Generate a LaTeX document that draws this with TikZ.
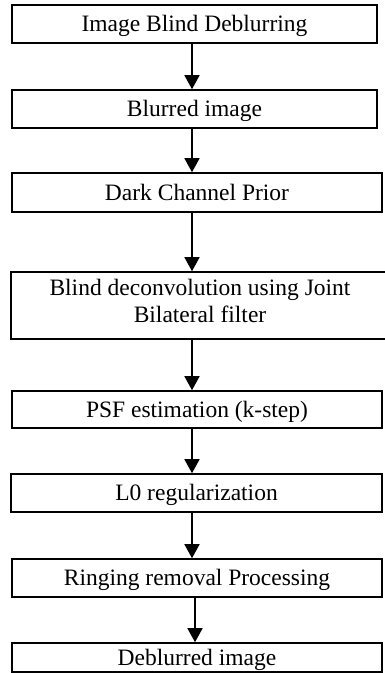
\documentclass[tikz,border=0pt]{standalone}
\usepackage{fontspec}
\setmainfont{Liberation Serif}
\usetikzlibrary{arrows.meta}
\begin{document}
\begin{tikzpicture}[x=1pt,y=-1pt,
  box/.style={draw=black, line width=1.6pt, rectangle, inner sep=0pt,
    font=\fontsize{23.5}{27}\selectfont, text height=15.5pt, text depth=0pt},
  txt/.style={inner sep=0pt, font=\fontsize{23.5}{27}\selectfont, anchor=base},
  arr/.style={line width=1.5pt, -{Triangle[width=15pt,length=14pt]}}]
\useasboundingbox (0,0) rectangle (384,673);
\node[box, minimum width=365pt, minimum height=38pt] (b1) at (194.5,24) {Image Blind Deblurring};
\node[box, minimum width=365pt, minimum height=38pt] (b2) at (194.5,109) {Blurred image};
\node[box, minimum width=370pt, minimum height=39pt] (b3) at (197,192.5) {Dark Channel Prior};
\node[box, minimum width=378pt, minimum height=67pt] (b4) at (200,305.5) {};
\node[txt] (b4a) at (200,295) {Blind deconvolution using Joint};
\node[txt] (b4b) at (200,322) {Bilateral filter};
\node[box, minimum width=370pt, minimum height=37pt] (b5) at (197,409.5) {PSF estimation (k-step)};
\node[box, minimum width=371pt, minimum height=38pt] (b6) at (196.5,493) {L0 regularization};
\node[box, minimum width=370pt, minimum height=38pt] (b7) at (197,578) {Ringing removal Processing};
\node[box, minimum width=370pt, minimum height=29pt] (b8) at (197,657.5) {Deblurred image};
\coordinate (ax) at (192,0);
\coordinate (bx) at (195,0);
\draw[arr] (b1.south -| ax) -- (b2.north -| ax);
\draw[arr] (b2.south -| ax) -- (b3.north -| ax);
\draw[arr] (b3.south -| ax) -- (b4.north -| ax);
\draw[arr] (b4.south -| ax) -- (b5.north -| ax);
\draw[arr] (b5.south -| ax) -- (b6.north -| ax);
\draw[arr] (b6.south -| ax) -- (b7.north -| ax);
\draw[arr] (b7.south -| bx) -- (b8.north -| bx);
\end{tikzpicture}
\end{document}
